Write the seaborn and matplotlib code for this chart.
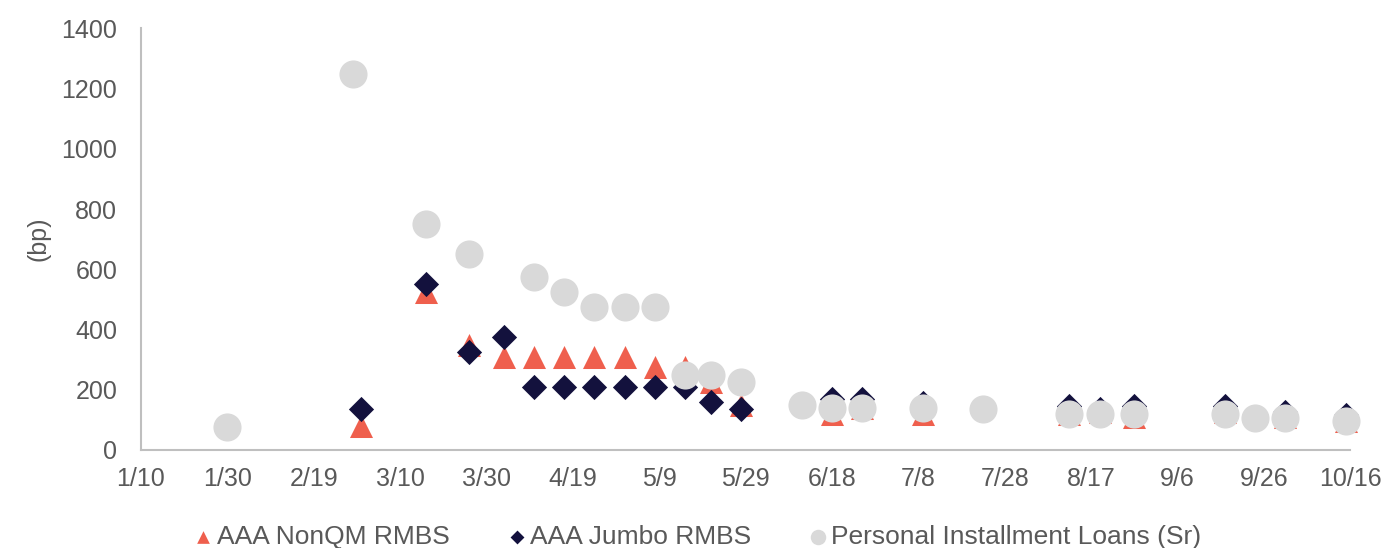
import pandas as pd
import matplotlib
matplotlib.use("Agg")
import matplotlib.pyplot as plt
import seaborn as sns

# ---- data (2020, spreads in bp) ----
year = 2020
x_tick_labels = ["1/10", "1/30", "2/19", "3/10", "3/30", "4/19", "5/9", "5/29",
                 "6/18", "7/8", "7/28", "8/17", "9/6", "9/26", "10/16"]
y_ticks = [0, 200, 400, 600, 800, 1000, 1200, 1400]

nonqm_dates = ["3/1", "3/16", "3/26", "4/3", "4/10", "4/17", "4/24", "5/1", "5/8",
               "5/15", "5/21", "5/28", "6/18", "6/25", "7/9", "8/12", "8/19",
               "8/27", "9/17", "10/1", "10/15"]
nonqm_bp = [80, 525, 350, 310, 310, 310, 310, 310, 275,
            275, 225, 150, 120, 140, 120, 120, 125,
            110, 125, 110, 95]

jumbo_dates = ["3/1", "3/16", "3/26", "4/3", "4/10", "4/17", "4/24", "5/1", "5/8",
               "5/15", "5/21", "5/28", "6/18", "6/25", "7/9", "8/12", "8/19",
               "8/27", "9/17", "10/1", "10/15"]
jumbo_bp = [135, 550, 325, 375, 210, 210, 210, 210, 210,
            210, 160, 135, 170, 170, 155, 145, 135,
            145, 145, 125, 115]

pil_dates = ["1/30", "2/28", "3/16", "3/26", "4/10", "4/17", "4/24", "5/1", "5/8",
             "5/15", "5/21", "5/28", "6/11", "6/18", "6/25", "7/9", "7/23",
             "8/12", "8/19", "8/27", "9/17", "9/24", "10/1", "10/15"]
pil_bp = [75, 1250, 750, 650, 575, 525, 475, 475, 475,
          250, 250, 225, 150, 140, 140, 140, 135,
          120, 120, 120, 120, 105, 105, 95]


def to_dates(labels):
    return pd.to_datetime([f"{year}/{d}" for d in labels], format="%Y/%m/%d")


nonqm = pd.DataFrame({"date": to_dates(nonqm_dates), "bp": nonqm_bp})
jumbo = pd.DataFrame({"date": to_dates(jumbo_dates), "bp": jumbo_bp})
pil = pd.DataFrame({"date": to_dates(pil_dates), "bp": pil_bp})

sns.set_theme(style="white")
plt.rcParams["font.family"] = ["Liberation Sans", "DejaVu Sans"]
text_color = "#595959"

fig = plt.figure(figsize=(13.82, 5.48), dpi=100)
ax = fig.add_axes([0.102, 0.179, 0.875, 0.769])

sns.scatterplot(data=nonqm, x="date", y="bp", marker="^", s=275, color="#EF5F4D",
                linewidth=0, label="AAA NonQM RMBS", ax=ax, zorder=3)
sns.scatterplot(data=jumbo, x="date", y="bp", marker="D", s=165, color="#13113D",
                linewidth=0, label="AAA Jumbo RMBS", ax=ax, zorder=4)
sns.scatterplot(data=pil, x="date", y="bp", marker="o", s=410, color="#D9D9D9",
                linewidth=0, label="Personal Installment Loans (Sr)", ax=ax, zorder=5)

# axes
tick_dates = to_dates(x_tick_labels)
ax.set_xlim(tick_dates[0], tick_dates[-1])
ax.set_xticks(tick_dates)
ax.set_xticklabels(x_tick_labels)
ax.set_ylim(0, 1400)
ax.set_yticks(y_ticks)
ax.set_yticklabels([str(v) for v in y_ticks])
ax.set_xlabel("")
ax.set_ylabel("(bp)", fontsize=18, color=text_color)
ax.yaxis.set_label_coords(-0.075, 0.5)
ax.tick_params(axis="x", length=0, pad=12, labelsize=18, labelcolor=text_color)
ax.tick_params(axis="y", length=0, pad=17, labelsize=18, labelcolor=text_color)

for side in ["top", "right"]:
    ax.spines[side].set_visible(False)
for side in ["left", "bottom"]:
    ax.spines[side].set_color("#BFBFBF")
    ax.spines[side].set_linewidth(1.5)
for coll in ax.collections:
    coll.set_clip_on(False)

handles, labels = ax.get_legend_handles_labels()
if ax.get_legend() is not None:
    ax.get_legend().remove()
leg = fig.legend(handles, labels, loc="lower center", bbox_to_anchor=(0.505, -0.045),
                 ncol=3, frameon=False, fontsize=19, markerscale=0.55,
                 handlelength=0.7, handletextpad=0.15, columnspacing=2.2)
for t in leg.get_texts():
    t.set_color(text_color)

fig.savefig("out.png", dpi=100)
